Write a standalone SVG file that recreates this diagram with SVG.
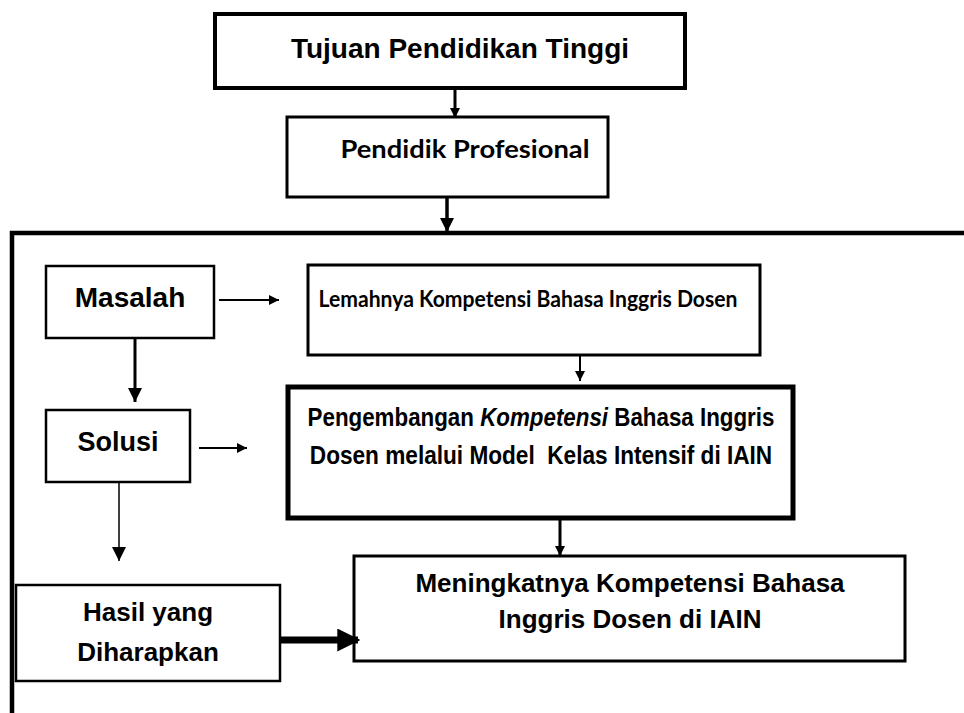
<svg xmlns="http://www.w3.org/2000/svg" width="964" height="713" viewBox="0 0 964 713">
  <defs>
    <style>
      .box { fill: #fff; stroke: #000; }
      .line { stroke: #000; fill: none; }
      .arial { font-family: "Liberation Sans", Arial, sans-serif; font-weight: bold; fill: #000; }
      .calibri { font-family: Lato, "Open Sans", sans-serif; font-weight: bold; fill: #000; }
    </style>
    <marker id="head" viewBox="0 0 10 10" refX="10" refY="5" markerWidth="10" markerHeight="10" markerUnits="userSpaceOnUse" orient="auto">
      <path d="M0,0 L10,5 L0,10 Z" fill="#000"/>
    </marker>
    <marker id="headM" viewBox="0 0 10 10" refX="10" refY="5" markerWidth="14" markerHeight="14" markerUnits="userSpaceOnUse" orient="auto">
      <path d="M0,0 L10,5 L0,10 Z" fill="#000"/>
    </marker>
    <marker id="headL" viewBox="0 0 10 10" refX="9" refY="5" markerWidth="23" markerHeight="23" markerUnits="userSpaceOnUse" orient="auto">
      <path d="M0,0 L10,5 L0,10 Z" fill="#000"/>
    </marker>
  </defs>

  <!-- outer frame -->
  <g id="frame">
    <path class="line" d="M12,713 V233 H964" stroke-width="4.5"/>
  </g>

  <g id="tujuan">
    <rect class="box" x="215" y="14" width="470" height="74" stroke-width="4"/>
    <text class="arial" x="460" y="58" font-size="28" text-anchor="middle">Tujuan Pendidikan Tinggi</text>
  </g>

  <g id="pendidik">
    <rect class="box" x="287" y="117" width="321" height="80" stroke-width="3"/>
    <text class="calibri" x="465" y="158" font-size="25" text-anchor="middle" textLength="249" lengthAdjust="spacingAndGlyphs">Pendidik Profesional</text>
  </g>

  <g id="masalah">
    <rect class="box" x="46" y="266" width="168" height="72" stroke-width="2.5"/>
    <text class="arial" x="130" y="307" font-size="28" text-anchor="middle">Masalah</text>
  </g>

  <g id="lemahnya">
    <rect class="box" x="308" y="265" width="452" height="90" stroke-width="3"/>
    <text class="calibri" x="528" y="307" font-size="23" text-anchor="middle" textLength="419" lengthAdjust="spacingAndGlyphs">Lemahnya Kompetensi Bahasa Inggris Dosen</text>
  </g>

  <g id="solusi">
    <rect class="box" x="46" y="410" width="144" height="72" stroke-width="2.5"/>
    <text class="arial" x="118" y="451" font-size="27" text-anchor="middle">Solusi</text>
  </g>

  <g id="pengembangan">
    <rect class="box" x="288" y="387" width="505" height="131" stroke-width="5"/>
    <!-- condensed face imitated by a horizontal squeeze -->
    <text class="arial" font-size="26" text-anchor="middle" transform="translate(541,426) scale(0.86,1)">Pengembangan <tspan font-style="italic">Kompetensi</tspan> Bahasa Inggris</text>
    <text class="arial" font-size="26" text-anchor="middle" transform="translate(541,464) scale(0.87,1)" xml:space="preserve">Dosen melalui Model  Kelas Intensif di IAIN</text>
  </g>

  <g id="hasil">
    <rect class="box" x="16" y="585" width="264" height="96" stroke-width="2.5"/>
    <text class="arial" x="148" y="621" font-size="26" text-anchor="middle">Hasil yang</text>
    <text class="arial" x="148" y="661" font-size="26" text-anchor="middle">Diharapkan</text>
  </g>

  <g id="meningkatnya">
    <rect class="box" x="354" y="556" width="551" height="105" stroke-width="3"/>
    <text class="arial" x="630" y="592" font-size="26" text-anchor="middle">Meningkatnya Kompetensi Bahasa</text>
    <text class="arial" x="630" y="628" font-size="26" text-anchor="middle">Inggris Dosen di IAIN</text>
  </g>

  <!-- connectors -->
  <g id="connectors">
    <line class="line" x1="455" y1="88" x2="455" y2="118" stroke-width="3" marker-end="url(#head)"/>
    <line class="line" x1="447" y1="197" x2="447" y2="232" stroke-width="3.5" marker-end="url(#headM)"/>
    <line class="line" x1="219" y1="300" x2="279" y2="300" stroke-width="2" marker-end="url(#head)"/>
    <line class="line" x1="580" y1="355" x2="580" y2="381" stroke-width="2" marker-end="url(#head)"/>
    <line class="line" x1="135" y1="338" x2="135" y2="402" stroke-width="3" marker-end="url(#headM)"/>
    <line class="line" x1="199" y1="448" x2="247" y2="448" stroke-width="2" marker-end="url(#head)"/>
    <line class="line" x1="560" y1="518" x2="560" y2="556" stroke-width="3" marker-end="url(#head)"/>
    <line class="line" x1="119" y1="482" x2="119" y2="561" stroke-width="1.5" marker-end="url(#headM)"/>
    <line class="line" x1="280" y1="640" x2="358" y2="640" stroke-width="7" marker-end="url(#headL)"/>
  </g>
</svg>
